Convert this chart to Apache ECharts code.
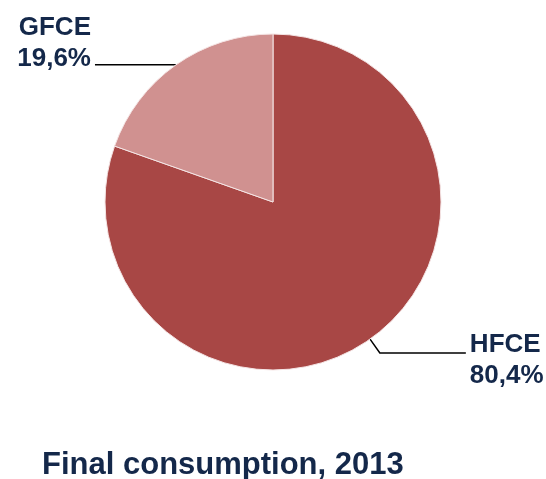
<!DOCTYPE html>
<html>
<head>
<meta charset="utf-8">
<script src="https://cdn.jsdelivr.net/npm/echarts@6/dist/echarts.min.js"></script>
<style>
html,body{margin:0;padding:0;background:#fff;}
#c{width:546px;height:479px;}
</style>
</head>
<body>
<div id="c"></div>
<script>
var categories = ['HFCE', 'GFCE'];
var shares = [80.4, 19.6];
var labelTexts = ['80,4%', '19,6%'];
var sliceColors = ['#A84745', '#D09190'];
var chartTitle = 'Final consumption, 2013';

var FONT = "'Liberation Sans', Arial, sans-serif";
var chart = echarts.init(document.getElementById('c'));
var navy = '#14284A';
var data = categories.map(function (c, i) {
  return {
    name: c,
    value: shares[i],
    itemStyle: { color: sliceColors[i] },
    labelLine: i === 0 ? { length: 17, length2: 86 } : { length: 0, length2: 81 }
  };
});
chart.setOption({
  animation: false,
  title: {
    text: chartTitle,
    left: 37,
    top: 445,
    textStyle: { fontFamily: FONT, fontSize: 31, fontWeight: 'bold', color: navy }
  },
  series: [{
    type: 'pie',
    center: [273, 202],
    radius: 168,
    startAngle: 90,
    clockwise: true,
    data: data,
    itemStyle: { borderColor: '#F4E4E4', borderWidth: 1 },
    label: {
      show: true,
      formatter: function (p) {
        var t = '{a|' + p.name + '}\n{a|' + labelTexts[p.dataIndex] + '}';
        return p.dataIndex === 0 ? '{s| }\n' + t : t + '\n{b| }';
      },
      fontFamily: FONT,
      fontSize: 26,
      fontWeight: 'bold',
      color: navy,
      align: 'left',
      overflow: 'none',
      distanceToLabelLine: 4,
      rich: {
        a: { fontFamily: FONT, fontSize: 26, fontWeight: 'bold', lineHeight: 31, color: navy },
        s: { fontSize: 10, lineHeight: 14 },
        b: { fontSize: 10, lineHeight: 43 }
      }
    },
    labelLine: {
      show: true,
      lineStyle: { color: '#000', width: 1.5 }
    },
    emphasis: { disabled: true }
  }]
});
</script>
</body>
</html>
